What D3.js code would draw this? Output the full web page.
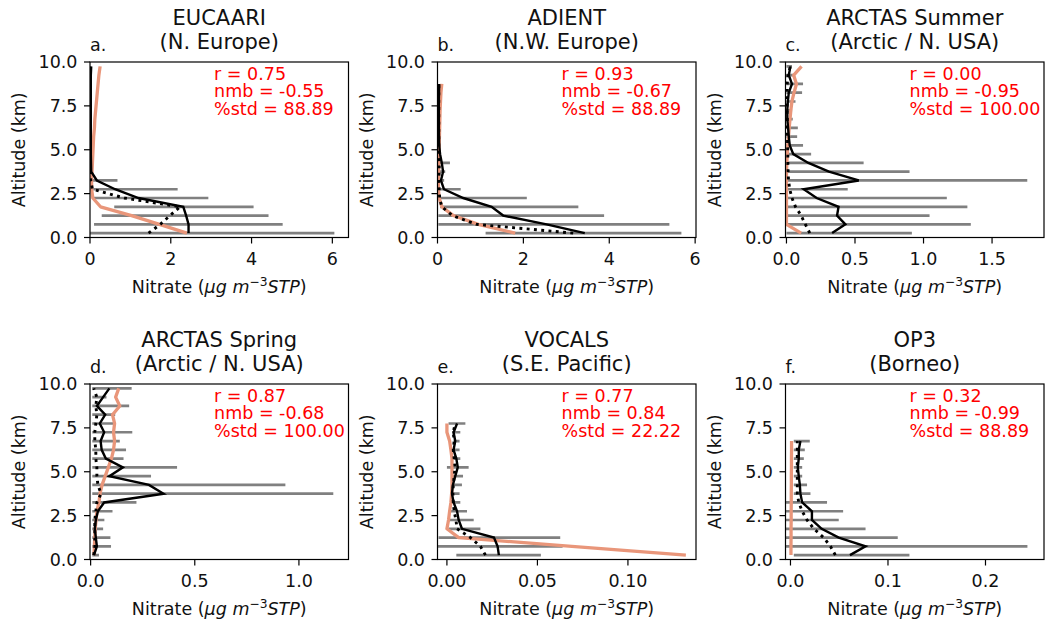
<!DOCTYPE html>
<html>
<head>
<meta charset="utf-8">
<script src="https://cdn.jsdelivr.net/npm/d3@7"></script>
<style>
body { margin: 0; background: #fff; }
svg text { font-family: "DejaVu Sans", sans-serif; }
</style>
</head>
<body>
<script>
// altitude bin centres (km), each campaign uses the first n of them
const altitude = [0.25, 0.75, 1.25, 1.75, 2.25, 2.75, 3.25, 3.75, 4.25, 4.75, 5.25, 5.75, 6.25, 6.75, 7.25, 7.75, 8.25, 8.75, 9.25, 9.75]

// a. EUCAARI
const eucaariLo     = [0, 0.1, 0.29, 0.6, 0.07, 0.08, 0]
const eucaariHi     = [6.05, 4.77, 4.42, 4.05, 2.93, 2.17, 0.68]
const eucaariMean   = [2.44, 2.44, 2.38, 2.31, 1.2, 0.62, 0.17, 0.03, 0.025, 0.02, 0.02, 0.02, 0.02, 0.02, 0.02, 0.02, 0.02, 0.02, 0.02, 0.03]
const eucaariMedian = [1.45, 1.74, 1.98, 2.23, 0.85, 0.06, 0.02, 0.01, 0.01, 0.01, 0.01, 0.01, 0.01, 0.01, 0.01, 0.01, 0.01, 0.01, 0.01, 0.01]
const eucaariModel  = [2.4, 1.72, 1.03, 0.26, 0.07, 0.04, 0.04, 0.05, 0.06, 0.07, 0.08, 0.09, 0.11, 0.12, 0.14, 0.16, 0.18, 0.2, 0.22, 0.25]

// b. ADIENT
const adientLo     = [1.12, 0.02, 0.02, 0.06, 0.06, 0.06, 0.02, 0.02, 0.02]
const adientHi     = [5.68, 5.4, 3.88, 3.28, 2.08, 0.54, 0.155, 0.18, 0.29]
const adientMean   = [3.43, 2.54, 1.53, 1.26, 0.6, 0.15, 0.08, 0.13, 0.1, 0.06, 0.04, 0.035, 0.03, 0.03, 0.03, 0.03, 0.035, 0.04]
const adientMedian = [3.16, 0.91, 0.35, 0.1, 0.05, 0.04, 0.03, 0.04, 0.04, 0.03, 0.03, 0.03, 0.03, 0.03, 0.03, 0.03, 0.03, 0.03]
const adientModel  = [1.81, 0.95, 0.37, 0.1, 0.04, 0.02, 0.02, 0.025, 0.03, 0.035, 0.04, 0.045, 0.05, 0.055, 0.06, 0.07, 0.08, 0.1]

// c. ARCTAS Summer
const summerLo     = [0, 0, 0, 0, 0, 0, 0, 0, 0, 0, 0, 0, 0, 0, 0, 0, 0, 0, 0, 0]
const summerHi     = [0.915, 1.345, 1.044, 1.32, 1.17, 0.447, 1.757, 0.898, 0.563, 0.18, 0.121, 0.078, 0.083, 0.046, 0.041, 0.066, 0.114, 0.121, 0.053, 0.04]
const summerMean   = [0.333, 0.43, 0.369, 0.38, 0.22, 0.126, 0.527, 0.31, 0.16, 0.05, 0.024, 0.017, 0.012, 0.006, 0.006, 0.01, 0.017, 0.04, 0.017, 0.029]
const summerMedian = [0.17, 0.138, 0.107, 0.066, 0.04, 0.024, 0.015, 0.012, 0.01, 0.01, 0.008, 0.008, 0.006, 0.006, 0.005, 0.005, 0.006, 0.006, 0.01, 0.029]
const summerModel  = [0.107, 0, 0, 0, 0, 0, 0, 0, 0.003, 0.006, 0.01, 0.015, 0.02, 0.026, 0.032, 0.04, 0.055, 0.073, 0.053, 0.11]

// d. ARCTAS Spring
const springLo     = [0.008, 0.008, 0.008, 0.008, 0.008, 0.008, 0.008, 0.008, 0.008, 0.008, 0.008, 0.008, 0.008, 0.008, 0.008, 0.008, 0.008, 0.008, 0.008, 0.008]
const springHi     = [0.04, 0.098, 0.095, 0.06, 0.066, 0.105, 0.22, 1.165, 0.935, 0.29, 0.415, 0.158, 0.17, 0.14, 0.2, 0.113, 0.118, 0.185, 0.076, 0.197]
const springMean   = [0.016, 0.03, 0.025, 0.02, 0.025, 0.035, 0.065, 0.35, 0.28, 0.09, 0.155, 0.073, 0.053, 0.048, 0.065, 0.044, 0.07, 0.03, 0.06, 0.09]
const springMedian = [0.015, 0.02, 0.02, 0.02, 0.02, 0.025, 0.03, 0.05, 0.035, 0.03, 0.03, 0.025, 0.025, 0.02, 0.02, 0.025, 0.03, 0.025, 0.03, 0.015]
const springModel  = [0.016, 0.018, 0.02, 0.022, 0.026, 0.03, 0.04, 0.045, 0.055, 0.07, 0.085, 0.1, 0.11, 0.115, 0.11, 0.115, 0.105, 0.14, 0.12, 0.135]

// e. VOCALS
const vocalsLo     = [0.0052, -0.0074, -0.0046, 0.0009, 0.0009, 0.0022, 0.0028, 0.0028, 0.0028, 0.0028, 0, 0.0037, 0.0037, 0.0037, 0.0028, 0.0009]
const vocalsHi     = [0.0519, 0.0639, 0.0626, 0.0185, 0.0148, 0.0111, 0.0074, 0.007, 0.0083, 0.0089, 0.012, 0.0074, 0.007, 0.007, 0.0074, 0.0102]
const vocalsMean   = [0.0287, 0.028, 0.026, 0.0083, 0.0065, 0.0056, 0.0037, 0.0028, 0.0033, 0.0046, 0.006, 0.0052, 0.0037, 0.0046, 0.0037, 0.0056]
const vocalsMedian = [0.0213, 0.0185, 0.013, 0.0056, 0.005, 0.004, 0.0035, 0.0033, 0.0035, 0.004, 0.0045, 0.004, 0.0035, 0.004, 0.0035, 0.0046]
const vocalsModel  = [0.132, 0.069, 0.0065, 0, 0.0009, 0.0015, 0.0022, 0.0026, 0.0028, 0.0028, 0.0028, 0.0028, 0.0022, 0.0015, 0, 0]

// f. OP3
const op3Lo     = [0.0034, -0.01, -0.01, -0.01, -0.01, -0.01, -0.01, 0.0034, 0.0034, 0.0034, 0.0034, 0.0034, 0.0034, 0.0034]
const op3Hi     = [0.122, 0.243, 0.11, 0.077, 0.0495, 0.054, 0.0375, 0.0205, 0.017, 0.012, 0.012, 0.0137, 0.0147, 0.0198]
const op3Mean   = [0.061, 0.077, 0.0495, 0.032, 0.022, 0.022, 0.012, 0.0102, 0.0096, 0.0085, 0.0075, 0.0085, 0.0085, 0.0102]
const op3Median = [0.046, 0.041, 0.034, 0.024, 0.017, 0.012, 0.0085, 0.007, 0.007, 0.007, 0.007, 0.007, 0.007, 0.007]
const op3Model  = [0.0005, 0.0005, 0.0006, 0.0006, 0.0007, 0.0007, 0.0008, 0.0008, 0.0009, 0.0009, 0.001, 0.001, 0.0011, 0.0011]

const titles = [["EUCAARI", "(N. Europe)"], ["ADIENT", "(N.W. Europe)"], ["ARCTAS Summer", "(Arctic / N. USA)"],
    ["ARCTAS Spring", "(Arctic / N. USA)"], ["VOCALS", "(S.E. Pacific)"], ["OP3", "(Borneo)"]]
const letters = ["a.", "b.", "c.", "d.", "e.", "f."]
const rValues = ["0.75", "0.93", "0.00", "0.87", "0.77", "0.32"]
const nmbValues = ["-0.55", "-0.67", "-0.95", "-0.68", "0.84", "-0.99"]
const stdValues = ["88.89", "88.89", "100.00", "100.00", "22.22", "88.89"]
const xTicks = [[0, 2, 4, 6], [0, 2, 4, 6], [0, 0.5, 1, 1.5], [0, 0.5, 1], [0, 0.05, 0.1], [0, 0.1, 0.2]]
const xFormats = ["d", "d", ".1f", ".1f", ".2f", ".1f"]
const yTicks = [0, 2.5, 5, 7.5, 10]

const series = [
    [eucaariLo, eucaariHi, eucaariMean, eucaariMedian, eucaariModel],
    [adientLo, adientHi, adientMean, adientMedian, adientModel],
    [summerLo, summerHi, summerMean, summerMedian, summerModel],
    [springLo, springHi, springMean, springMedian, springModel],
    [vocalsLo, vocalsHi, vocalsMean, vocalsMedian, vocalsModel],
    [op3Lo, op3Hi, op3Mean, op3Median, op3Model]
]

// layout
const width = 1051
const height = 623
const lefts = [90, 437.5, 785.5]
const tops = [62, 384]
const w = 258.5
const h = 175.5
const xDomains = [[0, 6.4], [0, 6.02], [-0.007, 1.879], [-0.003, 1.238], [-0.0052, 0.1376], [-0.0051, 0.26]]
const fs = 17.5
const ink = "#111"
const salmon = "#e9967a"

const svg = d3.select("body")
    .append("svg")
    .attr("width", width)
    .attr("height", height)

series.forEach(([lo, hi, mean, median, model], i) => {
    const left = lefts[i % 3]
    const top = tops[Math.floor(i / 3)]

    const sx = d3.scaleLinear().domain(xDomains[i]).range([0, w])
    const sy = d3.scaleLinear().domain([0, 10]).range([h, 0])

    const g = svg.append("g").attr("transform", `translate(${left},${top})`)

    g.append("clipPath").attr("id", "clip" + i)
        .append("rect").attr("width", w).attr("height", h)

    const plot = g.append("g").attr("clip-path", `url(#clip${i})`)

    // gray range bars
    const bars = lo.map((d, k) => ({alt: altitude[k], lo: d, hi: hi[k]}))
    plot.append("g")
        .selectAll("line")
        .data(bars)
        .enter().append("line")
        .attr("x1", d => sx(d.lo))
        .attr("x2", d => sx(d.hi))
        .attr("y1", d => sy(d.alt))
        .attr("y2", d => sy(d.alt))
        .attr("stroke", "#808080")
        .attr("stroke-width", 2.7)

    const line = d3.line()
        .x(d => sx(d[1]))
        .y(d => sy(d[0]))
    const pts = arr => arr.map((v, k) => [altitude[k], v])

    plot.append("path").attr("d", line(pts(model)))
        .attr("fill", "none").attr("stroke", salmon).attr("stroke-width", 3.3)
        .attr("stroke-linejoin", "round")
    plot.append("path").attr("d", line(pts(mean)))
        .attr("fill", "none").attr("stroke", "#000").attr("stroke-width", 2.4)
    plot.append("path").attr("d", line(pts(median)))
        .attr("fill", "none").attr("stroke", "#000").attr("stroke-width", 2.9)
        .attr("stroke-dasharray", "2.9,4.4")

    // frame
    g.append("rect").attr("width", w).attr("height", h)
        .attr("fill", "none").attr("stroke", "#000").attr("stroke-width", 1.2)

    // y axis
    const yg = g.append("g")
    yg.selectAll("line").data(yTicks).enter().append("line")
        .attr("x1", 0).attr("x2", -6)
        .attr("y1", d => sy(d)).attr("y2", d => sy(d))
        .attr("stroke", "#000").attr("stroke-width", 1.2)
    yg.selectAll("text").data(yTicks).enter().append("text")
        .attr("x", -12.5).attr("y", d => sy(d)).attr("dy", "0.36em")
        .attr("text-anchor", "end").attr("font-size", fs).attr("fill", ink)
        .text(d3.format(".1f"))

    // x axis
    const xg = g.append("g")
    const fmt = d3.format(xFormats[i])
    xg.selectAll("line").data(xTicks[i]).enter().append("line")
        .attr("x1", d => sx(d)).attr("x2", d => sx(d))
        .attr("y1", h).attr("y2", h + 6)
        .attr("stroke", "#000").attr("stroke-width", 1.2)
    xg.selectAll("text").data(xTicks[i]).enter().append("text")
        .attr("x", d => sx(d)).attr("y", h + 27.5)
        .attr("text-anchor", "middle").attr("font-size", fs).attr("fill", ink)
        .text(fmt)

    // axis labels
    g.append("text")
        .attr("transform", `translate(-71,${h / 2}) rotate(-90)`)
        .attr("dy", "0.36em")
        .attr("text-anchor", "middle").attr("font-size", fs).attr("fill", ink)
        .text("Altitude (km)")

    const xl = g.append("text")
        .attr("x", w / 2).attr("y", h + 55.5)
        .attr("text-anchor", "middle").attr("font-size", fs).attr("fill", ink)
    xl.append("tspan").text("Nitrate (")
    xl.append("tspan").attr("font-style", "italic").text("\u03bcg m")
    xl.append("tspan").attr("font-size", fs * 0.7).attr("dy", -7).text("\u22123")
    xl.append("tspan").attr("font-style", "italic").attr("dy", 7).text("STP")
    xl.append("tspan").text(")")

    // titles
    g.append("text").attr("x", w / 2).attr("y", -37)
        .attr("text-anchor", "middle").attr("font-size", 21).attr("fill", ink)
        .text(titles[i][0])
    g.append("text").attr("x", w / 2).attr("y", -13)
        .attr("text-anchor", "middle").attr("font-size", 21).attr("fill", ink)
        .text(titles[i][1])
    g.append("text").attr("x", 0).attr("y", -11)
        .attr("font-size", fs).attr("fill", ink)
        .text(letters[i])

    // stats, placed at axes fractions 0.9 / 0.8 / 0.7
    const stats = [`r = ${rValues[i]}`, `nmb = ${nmbValues[i]}`, `%std = ${stdValues[i]}`]
    g.append("g").selectAll("text").data(stats).enter().append("text")
        .attr("x", 0.48 * w)
        .attr("y", (d, k) => h - (0.9 - 0.1 * k) * h)
        .attr("font-size", fs).attr("fill", "#ff0000")
        .text(d => d)
})
</script>
</body>
</html>
